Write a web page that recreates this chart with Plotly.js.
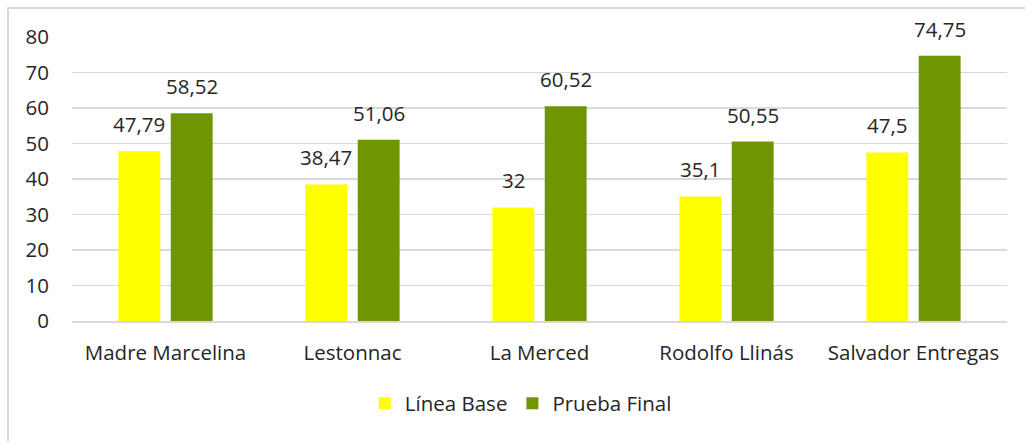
<!DOCTYPE html>
<html>
<head>
<meta charset="utf-8">
<script src="https://cdn.plot.ly/plotly-3.0.1.min.js"></script>
<style>
  body { margin: 0; background: #fff; }
  #chart { width: 1025px; height: 441px; }
</style>
</head>
<body>
<div id="chart"></div>
<script>
var colegios = ['Madre Marcelina', 'Lestonnac', 'La Merced', 'Rodolfo Llinás', 'Salvador Entregas'];
var lineaBase = [47.79, 38.47, 32, 35.1, 47.5];
var pruebaFinal = [58.52, 51.06, 60.52, 50.55, 74.75];
var yTicks = [0, 10, 20, 30, 40, 50, 60, 70, 80];

function etiqueta(v) {
  return String(v).replace('.', ',');
}

var textFont = { family: 'Open Sans, sans-serif', size: 20.5, color: '#262626' };

var trace1 = {
  x: colegios,
  y: lineaBase,
  name: 'Línea Base',
  type: 'bar',
  hoverinfo: 'none',
  marker: { color: '#FFFF00' }
};

var trace2 = {
  x: colegios,
  y: pruebaFinal,
  name: 'Prueba Final',
  type: 'bar',
  hoverinfo: 'none',
  marker: { color: '#6F9600' }
};

// value labels above each bar
var annotations = [];
colegios.forEach(function (c, i) {
  annotations.push({
    x: c, y: lineaBase[i], xref: 'x', yref: 'y',
    text: etiqueta(lineaBase[i]), showarrow: false,
    xshift: -26.5, yshift: 11, yanchor: 'bottom',
    font: textFont
  });
  annotations.push({
    x: c, y: pruebaFinal[i], xref: 'x', yref: 'y',
    text: etiqueta(pruebaFinal[i]), showarrow: false,
    xshift: 26.5, yshift: 11, yanchor: 'bottom',
    font: textFont
  });
});

var layout = {
  width: 1025,
  height: 441,
  margin: { l: 72, r: 18, t: 37, b: 120 },
  paper_bgcolor: '#fff',
  plot_bgcolor: '#fff',
  barmode: 'group',
  bargap: 0.44,
  bargroupgap: 0.2,
  showlegend: true,
  legend: {
    orientation: 'h',
    x: 0.48,
    xanchor: 'center',
    y: -0.22,
    yanchor: 'top',
    font: textFont,
    itemwidth: 30
  },
  xaxis: {
    tickfont: textFont,
    showline: true,
    linecolor: '#d9d9d9',
    linewidth: 1.5,
    ticks: '',
    showgrid: false,
    ticklabelstandoff: 13
  },
  yaxis: {
    range: [0, 80],
    tickvals: yTicks,
    tickfont: textFont,
    showgrid: true,
    gridcolor: '#d9d9d9',
    gridwidth: 1.5,
    zeroline: false,
    ticks: '',
    ticklabelstandoff: 22
  },
  annotations: annotations,
  shapes: [{
    type: 'rect',
    xref: 'paper', yref: 'paper',
    x0: -0.0684, x1: 1.06,
    y0: -0.6, y1: 1.102,
    line: { color: '#d9d9d9', width: 2 }
  }]
};

Plotly.newPlot('chart', [trace1, trace2], layout, { displayModeBar: false, staticPlot: true });
</script>
</body>
</html>
